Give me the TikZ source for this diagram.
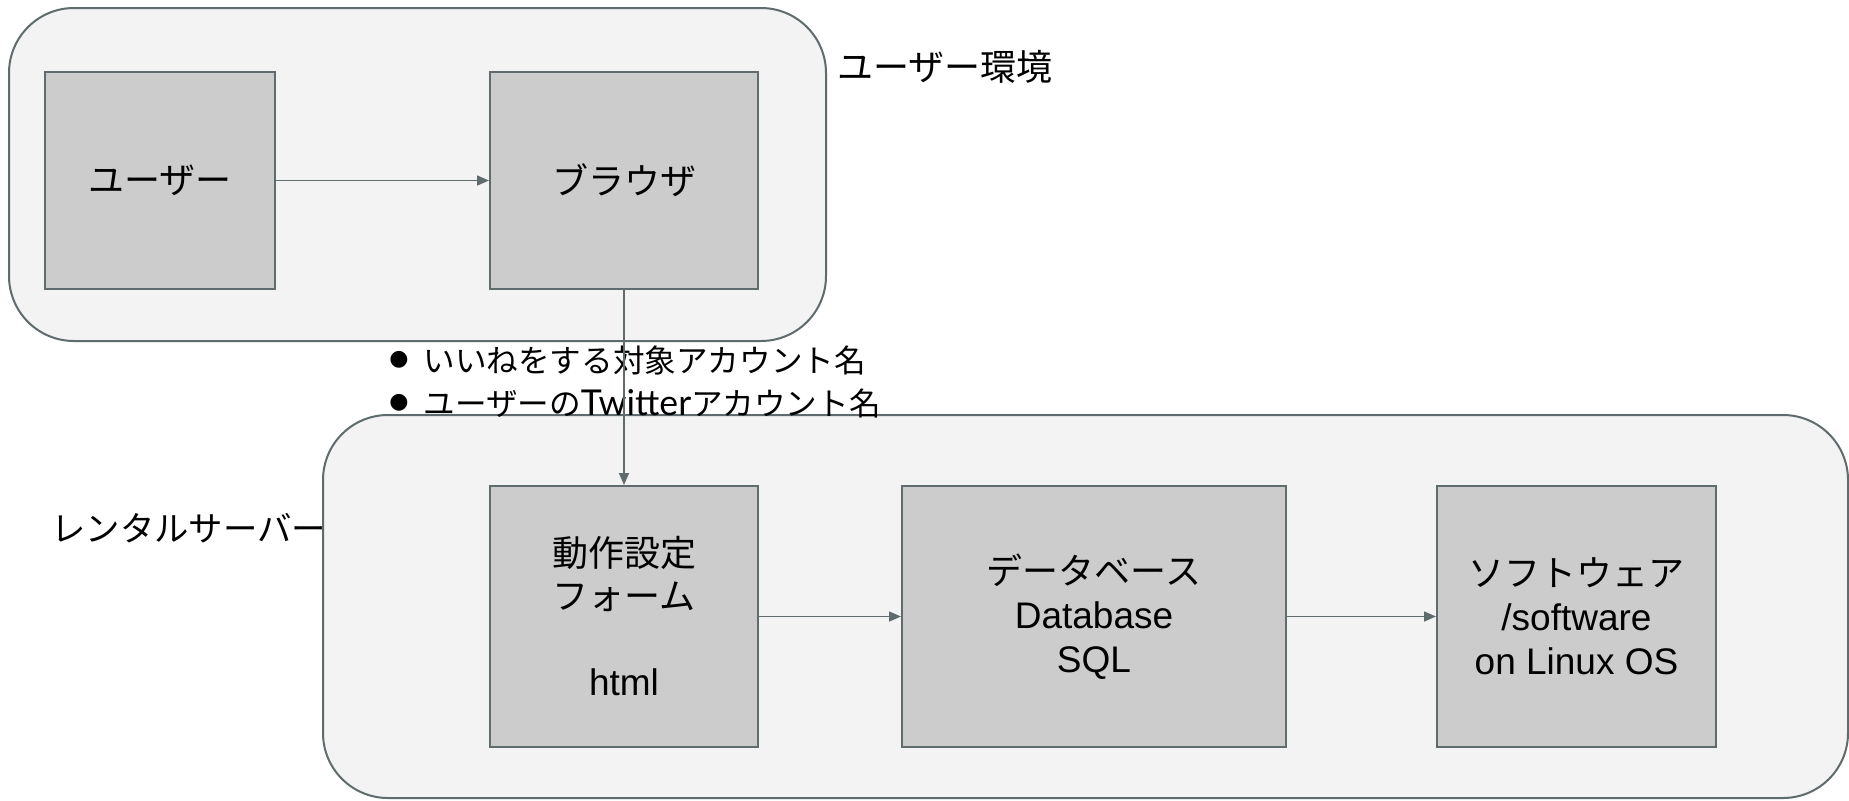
\documentclass[tikz,border=0pt]{standalone}
\usepackage{fontspec}
\setmainfont{Liberation Sans}
\newfontfamily\jp{Noto Sans CJK JP}
\newfontfamily\lato{Lato}
\newfontfamily\dv{DejaVu Sans}
\usetikzlibrary{arrows.meta}
\definecolor{edge}{RGB}{95,107,109}
\definecolor{panel}{RGB}{243,243,243}
\definecolor{boxfill}{RGB}{204,204,204}
\tikzset{
  container/.style={draw=edge, fill=panel, line width=1pt, rounded corners=32.5pt},
  box/.style={draw=edge, fill=boxfill, line width=1pt, inner sep=0pt, align=center,
    font=\fontsize{18.5pt}{22pt}\selectfont, text=black},
  conn/.style={draw=edge, line width=0.8pt, -{Triangle[length=6pt,width=5pt]}},
  lab/.style={anchor=west, inner sep=0pt, text=black},
  bul/.style={inner sep=0pt, font=\dv\fontsize{11pt}{14pt}\selectfont},
}
\newcommand{\J}[1]{{\jp\fontsize{18pt}{22pt}\selectfont #1}}
\begin{document}
\begin{tikzpicture}[x=0.5pt,y=-0.5pt]
\useasboundingbox (0,0) rectangle (1849,800);
\fill[white] (0,0) rectangle (1849,800);
% containers
\draw[container] (9,8) rectangle (826,341);
\draw[container] (323,415) rectangle (1848,798);
% labels
\node[lab, font=\jp\fontsize{18pt}{22pt}\selectfont] (envlab) at (837,67) {ユーザー環境};
\node[lab, font=\jp\fontsize{17.2pt}{22pt}\selectfont] (srvlab) at (51,528) {レンタルサーバー};
% bullets
\node[bul] (b1) at (399,360) {●};
\node[bul] (b2) at (399,403) {●};
\node[lab, font=\jp\fontsize{15.8pt}{20pt}\selectfont] (t1) at (423,360) {いいねをする対象アカウント名};
\node[lab, font=\jp\fontsize{15.8pt}{20pt}\selectfont] (t2) at (423,403) {ユーザーの{\lato\fontsize{17.8pt}{20pt}\selectfont Twitter}アカウント名};
% boxes
\node[box, minimum width=115pt, minimum height=108.5pt] (user) at (160,180.5) {\J{ユーザー}};
\node[box, minimum width=134pt, minimum height=108.5pt] (browser) at (624,180.5) {\J{ブラウザ}};
\node[box, minimum width=134pt, minimum height=130.5pt] (form) at (624,616.5) {\J{動作設定}\\[-0.5pt]\J{フォーム}\\[-0.5pt]\strut\\[-0.5pt]html};
\node[box, minimum width=192pt, minimum height=130.5pt] (db) at (1094,616.5) {\J{データベース}\\Database\\SQL};
\node[box, minimum width=139.5pt, minimum height=130.5pt] (sw) at (1576.5,616.5) {\J{ソフトウェア}\\/software\\on Linux OS};
% connectors
\draw[conn] (user) -- (browser);
\draw[conn] (browser) -- (form);
\draw[conn] (form) -- (db);
\draw[conn] (db) -- (sw);
\end{tikzpicture}
\end{document}
